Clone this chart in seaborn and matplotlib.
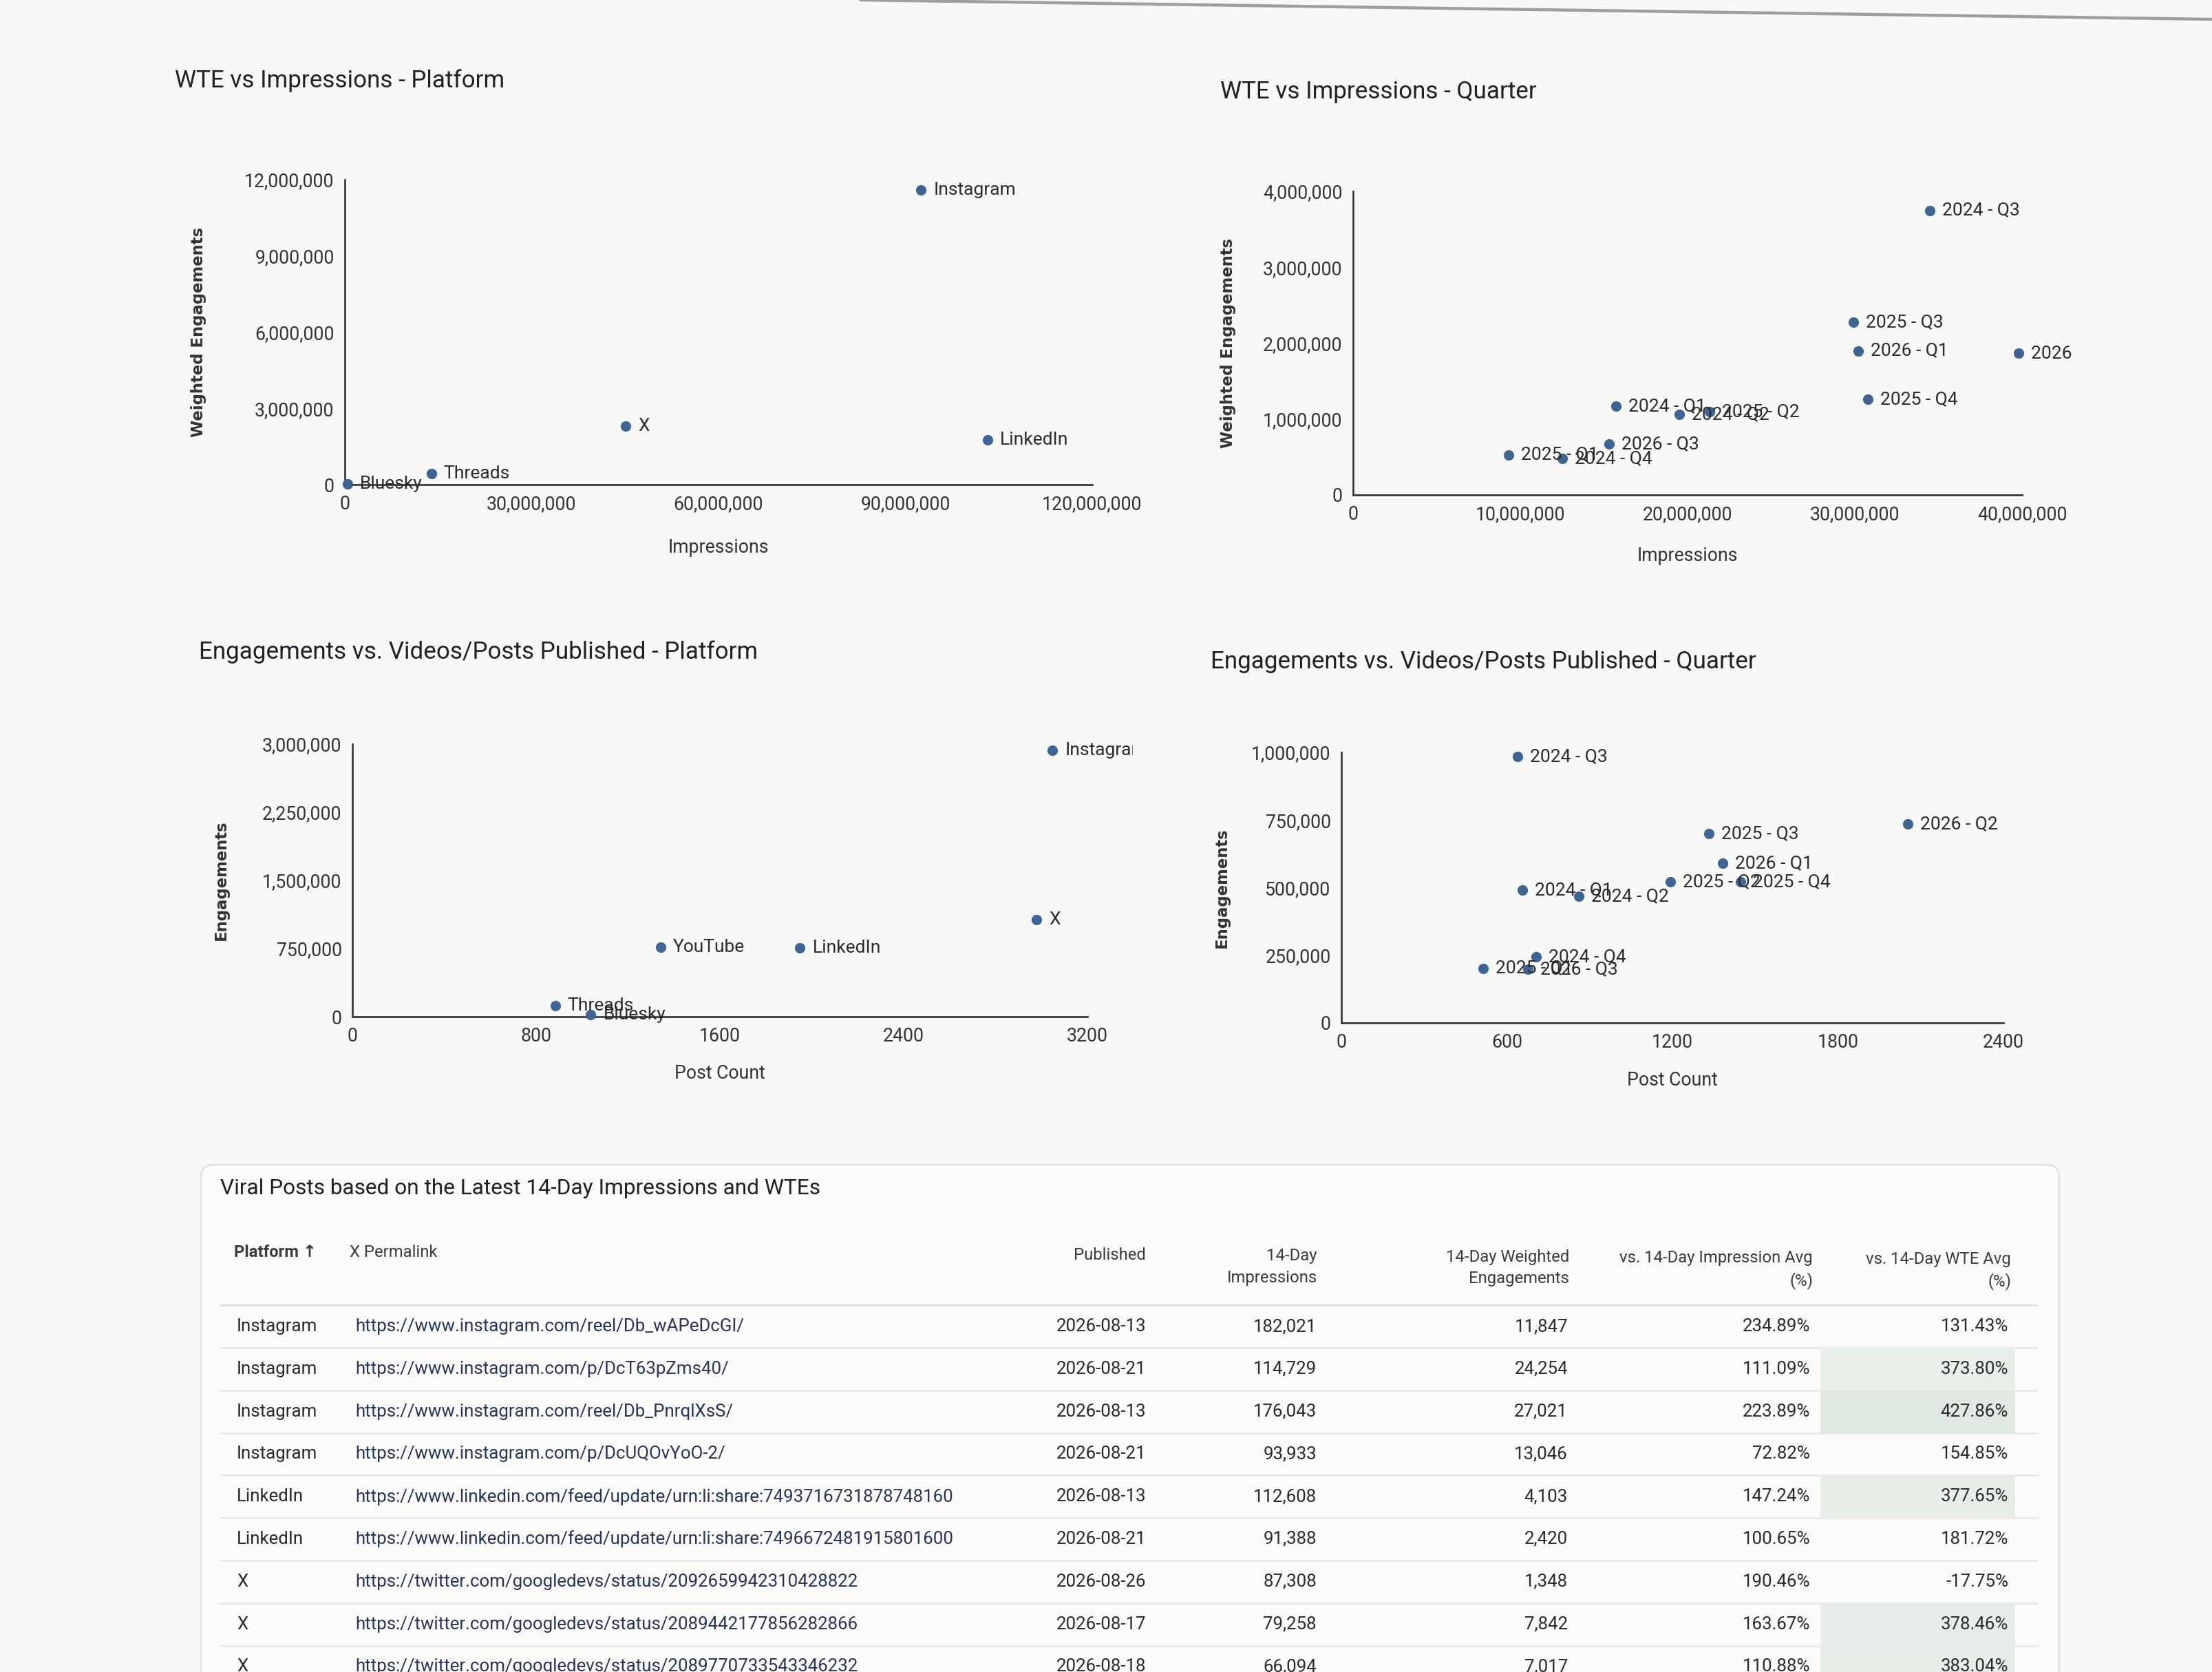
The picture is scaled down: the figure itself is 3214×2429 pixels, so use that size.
import matplotlib
matplotlib.use("Agg")
import matplotlib.pyplot as plt
import seaborn as sns
import pandas as pd
from matplotlib.ticker import FuncFormatter, MultipleLocator
from matplotlib.transforms import Bbox
from matplotlib.patches import Rectangle, FancyBboxPatch
from matplotlib.lines import Line2D

# ---------------- data ----------------
# WTE vs Impressions - Platform
p1_names = ["Instagram", "X", "LinkedIn", "Threads", "Bluesky"]
p1_impressions = [92_500_000, 45_100_000, 103_200_000, 13_900_000, 400_000]
p1_wte = [11_600_000, 2_300_000, 1_750_000, 430_000, 30_000]

# WTE vs Impressions - Quarter
quarters = ["2024 - Q1", "2024 - Q2", "2024 - Q3", "2024 - Q4",
            "2025 - Q1", "2025 - Q2", "2025 - Q3", "2025 - Q4",
            "2026 - Q1", "2026 - Q2", "2026 - Q3"]
q_impressions = [15_700_000, 19_500_000, 34_500_000, 12_500_000,
                 9_300_000, 21_300_000, 29_900_000, 30_800_000,
                 30_200_000, 39_800_000, 15_300_000]
q_wte = [1_170_000, 1_060_000, 3_750_000, 480_000,
         530_000, 1_100_000, 2_280_000, 1_260_000,
         1_900_000, 1_870_000, 670_000]

# Engagements vs Posts - Platform
p3_names = ["Instagram", "X", "YouTube", "LinkedIn", "Threads", "Bluesky"]
p3_posts = [3048, 2979, 1343, 1949, 883, 1038]
p3_eng = [2_930_000, 1_070_000, 765_000, 755_000, 125_000, 25_000]

# Engagements vs Posts - Quarter
q_posts = [656, 860, 639, 706, 513, 1193, 1333, 1447, 1381, 2053, 675]
q_eng = [490_000, 467_000, 985_000, 245_000, 202_000, 522_000,
         700_000, 522_000, 590_000, 735_000, 198_000]

# Viral posts table
t_platform = ["Instagram", "Instagram", "Instagram", "Instagram",
              "LinkedIn", "LinkedIn", "X", "X", "X"]
t_link = ["https://www.instagram.com/reel/Db_wAPeDcGI/",
          "https://www.instagram.com/p/DcT63pZms40/",
          "https://www.instagram.com/reel/Db_PnrqlXsS/",
          "https://www.instagram.com/p/DcUQOvYoO-2/",
          "https://www.linkedin.com/feed/update/urn:li:share:7493716731878748160",
          "https://www.linkedin.com/feed/update/urn:li:share:7496672481915801600",
          "https://twitter.com/googledevs/status/2092659942310428822",
          "https://twitter.com/googledevs/status/2089442177856282866",
          "https://twitter.com/googledevs/status/2089770733543346232"]
t_published = ["2026-08-13", "2026-08-21", "2026-08-13", "2026-08-21",
               "2026-08-13", "2026-08-21", "2026-08-26", "2026-08-17", "2026-08-18"]
t_impr = [182021, 114729, 176043, 93933, 112608, 91388, 87308, 79258, 66094]
t_wte = [11847, 24254, 27021, 13046, 4103, 2420, 1348, 7842, 7017]
t_impr_avg = [234.89, 111.09, 223.89, 72.82, 147.24, 100.65, 190.46, 163.67, 110.88]
t_wte_avg = [131.43, 373.80, 427.86, 154.85, 377.65, 181.72, -17.75, 378.46, 383.04]

# ---------------- style ----------------
W, H, DPI = 3214, 2429, 200
BG = "#f8f8f6"
DOT = "#3e6594"
TXT = "#2b2b2b"
sns.set_theme(style="white")
plt.rcParams["font.family"] = ["Roboto", "DejaVu Sans"]
plt.rcParams["axes.facecolor"] = "none"

fig = plt.figure(figsize=(W / DPI, H / DPI), dpi=DPI, facecolor=BG)

def px_axes(x0, y0, x1, y1):
    return fig.add_axes([x0 / W, 1 - y1 / H, (x1 - x0) / W, (y1 - y0) / H])

comma = FuncFormatter(lambda v, p: f"{v:,.0f}")
plain = FuncFormatter(lambda v, p: f"{v:.0f}")

def style_axes(ax, xmax, xstep, ymax, ystep, xlabel, ylabel, ylab_x, xlab_y, xfmt):
    ax.set_xlim(0, xmax)
    ax.set_ylim(0, ymax)
    ax.xaxis.set_major_locator(MultipleLocator(xstep))
    ax.yaxis.set_major_locator(MultipleLocator(ystep))
    ax.xaxis.set_major_formatter(xfmt)
    ax.yaxis.set_major_formatter(comma)
    for s in ["top", "right"]:
        ax.spines[s].set_visible(False)
    for s in ["left", "bottom"]:
        ax.spines[s].set_color("#3a3a3a")
        ax.spines[s].set_linewidth(1.0)
    ax.tick_params(length=0, labelsize=9.6, colors="#333333", pad=5.5)
    ax.set_xlabel(xlabel, fontsize=9.6, color="#333333")
    ax.set_ylabel(ylabel, fontsize=8.2, color="#333333",
                  family="DejaVu Sans", fontweight="bold")
    ax.yaxis.set_label_coords(ylab_x, 0.5)
    ax.xaxis.set_label_coords(0.5, xlab_y)
    ax.grid(False)

def label_points(ax, xs, ys, names, clip_x=None):
    for x, y, n in zip(xs, ys, names):
        a = ax.annotate(n, (x, y), xytext=(6.5, 0), textcoords="offset points",
                        ha="left", va="center", fontsize=9.5, color=TXT,
                        annotation_clip=False, zorder=5)
        if clip_x is not None:
            a.set_clip_on(True)
            a.set_clip_box(Bbox.from_extents(0, 0, clip_x, H))

def scatter(ax, xs, ys):
    df = pd.DataFrame({"x": xs, "y": ys})
    sns.scatterplot(data=df, x="x", y="y", ax=ax, color=DOT, s=30,
                    linewidth=0, clip_on=False, zorder=4)

# Chart 1
ax1 = px_axes(501, 261, 1587, 704)
scatter(ax1, p1_impressions, p1_wte)
style_axes(ax1, 120_000_000, 30_000_000, 12_000_000, 3_000_000,
           "Impressions", "Weighted Engagements", -0.185, -0.175, comma)
label_points(ax1, p1_impressions, p1_wte, p1_names)
fig.text(254 / W, 1 - 117 / H, "WTE vs Impressions - Platform",
         fontsize=12.6, color="#202124", va="center", ha="left")

# Chart 2
ax2 = px_axes(1966, 278, 2938, 719)
scatter(ax2, q_impressions, q_wte)
style_axes(ax2, 40_000_000, 10_000_000, 4_000_000, 1_000_000,
           "Impressions", "Weighted Engagements", -0.175, -0.17, comma)
label_points(ax2, q_impressions, q_wte, quarters, clip_x=3016)
fig.text(1773 / W, 1 - 133 / H, "WTE vs Impressions - Quarter",
         fontsize=12.6, color="#202124", va="center", ha="left")

# Chart 3
ax3 = px_axes(512, 1081, 1580, 1477)
scatter(ax3, p3_posts, p3_eng)
style_axes(ax3, 3200, 800, 3_000_000, 750_000,
           "Post Count", "Engagements", -0.168, -0.174, plain)
label_points(ax3, p3_posts, p3_eng, p3_names, clip_x=1646)
fig.text(289 / W, 1 - 947 / H, "Engagements vs. Videos/Posts Published - Platform",
         fontsize=12.6, color="#202124", va="center", ha="left")

# Chart 4
ax4 = px_axes(1949, 1093, 2911, 1486)
scatter(ax4, q_posts, q_eng)
style_axes(ax4, 2400, 600, 1_000_000, 250_000,
           "Post Count", "Engagements", -0.169, -0.178, plain)
label_points(ax4, q_posts, q_eng, quarters)
fig.text(1759 / W, 1 - 961 / H, "Engagements vs. Videos/Posts Published - Quarter",
         fontsize=12.6, color="#202124", va="center", ha="left")

# photo edge line at top
fig.add_artist(Line2D([1250 / W, 1.0], [1 - 0 / H, 1 - 28 / H],
                      color="#8f8f8f", lw=1.6, alpha=0.85))

# ---------------- table ----------------
ROW0, ROWH = 1927, 61.8
top_px = 1690
axt = fig.add_axes([0, 0, 1, (H - top_px) / H])
axt.set_xlim(0, W)
axt.set_ylim((H - ROW0) / ROWH, (top_px - ROW0) / ROWH)
axt.axis("off")

card = FancyBboxPatch((292, -3.80), 2700, 14, boxstyle="round,pad=0,rounding_size=18",
                      facecolor="#fbfbfa", edgecolor="#e3e3e1", lw=1.0,
                      mutation_aspect=1 / ROWH, zorder=0)
axt.add_patch(card)
axt.text(320, -3.25, "Viral Posts based on the Latest 14-Day Impressions and WTEs",
         fontsize=11.4, color="#202124", va="center", ha="left")

hdr_kw = dict(fontsize=8.6, color="#3c3c3c", va="center")
axt.text(340, -1.74, "Platform \u2191", ha="left", fontweight="bold", **hdr_kw)
axt.text(508, -1.74, "X Permalink", ha="left", **hdr_kw)
axt.text(1665, -1.68, "Published", ha="right", **hdr_kw)
two_kw = dict(ha="right", multialignment="right", linespacing=1.45, **hdr_kw)
axt.text(1914, -1.40, "14-Day\nImpressions", **two_kw)
axt.text(2280, -1.38, "14-Day Weighted\nEngagements", **two_kw)
axt.text(2634, -1.34, "vs. 14-Day Impression Avg\n(%)", **two_kw)
axt.text(2922, -1.31, "vs. 14-Day WTE Avg\n(%)", **two_kw)

axt.plot([320, 2960], [-0.5, -0.5], color="#e0e0de", lw=1.0, zorder=1)

def heat_color(v):
    t = min(max((v - 250) / 180, 0), 1)
    base = (0.984, 0.984, 0.980)
    tgt = (0.875, 0.910, 0.880)
    return tuple(b + (g - b) * t for b, g in zip(base, tgt))

cell_kw = dict(fontsize=9.3, va="center", color=TXT)
for i in range(len(t_platform)):
    if i < len(t_platform) - 1:
        axt.plot([320, 2960], [i + 0.5, i + 0.5], color="#e8e8e6", lw=1.0, zorder=1)
    if t_wte_avg[i] > 250:
        axt.add_patch(Rectangle((2645, i - 0.5), 283, 1, facecolor=heat_color(t_wte_avg[i]),
                                edgecolor="none", zorder=1))
    axt.text(344, i, t_platform[i], ha="left", **cell_kw)
    axt.text(516, i, t_link[i], ha="left", fontsize=9.3, va="center", color="#26365a")
    axt.text(1665, i, t_published[i], ha="right", **cell_kw)
    axt.text(1913, i, f"{t_impr[i]:,}", ha="right", **cell_kw)
    axt.text(2278, i, f"{t_wte[i]:,}", ha="right", **cell_kw)
    axt.text(2630, i, f"{t_impr_avg[i]:.2f}%", ha="right", **cell_kw)
    axt.text(2918, i, f"{t_wte_avg[i]:.2f}%", ha="right", **cell_kw)

fig.savefig("out.png", dpi=DPI, facecolor=BG)
